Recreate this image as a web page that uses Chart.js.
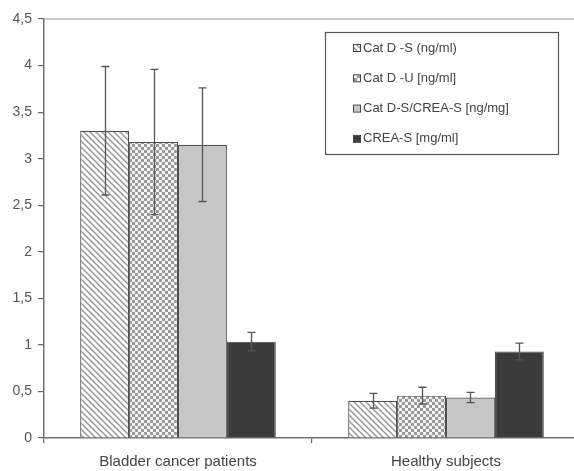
<!DOCTYPE html>
<html>
<head>
<meta charset="utf-8">
<script src="https://cdn.jsdelivr.net/npm/chart.js@4.4.1/dist/chart.umd.min.js"></script>
<style>
  html, body { margin: 0; padding: 0; background: #fff; overflow: hidden; }
  #wrap { width: 580px; height: 471px; }
</style>
</head>
<body>
<div id="wrap"><canvas id="c" width="580" height="471"></canvas></div>
<script>
const categories = ["Bladder cancer patients", "Healthy subjects"];
const seriesLabels = ["Cat D -S (ng/ml)", "Cat D -U [ng/ml]", "Cat D-S/CREA-S [ng/mg]", "CREA-S [mg/ml]"];
const catDS = [3.30, 0.40];
const catDU = [3.18, 0.455];
const catDSCrea = [3.15, 0.435];
const creaS = [1.035, 0.93];
const errCatDS = [0.69, 0.08];
const errCatDU = [0.78, 0.09];
const errCatDSCrea = [0.61, 0.055];
const errCreaS = [0.10, 0.09];
const yTicks = [0, 0.5, 1, 1.5, 2, 2.5, 3, 3.5, 4, 4.5];

function hatchPattern() {
  const c = document.createElement('canvas');
  c.width = 6; c.height = 6;
  const x = c.getContext('2d');
  x.fillStyle = '#fff'; x.fillRect(0, 0, 6, 6);
  x.strokeStyle = '#969696'; x.lineWidth = 1.4;
  x.beginPath();
  x.moveTo(-1, -1); x.lineTo(7, 7);
  x.moveTo(-1, 5); x.lineTo(1, 7);
  x.moveTo(5, -1); x.lineTo(7, 1);
  x.stroke();
  return x.createPattern(c, 'repeat');
}
function checkerPattern() {
  const c = document.createElement('canvas');
  c.width = 6; c.height = 6;
  const x = c.getContext('2d');
  x.fillStyle = '#f4f4f4'; x.fillRect(0, 0, 6, 6);
  x.fillStyle = '#9a9a9a';
  x.fillRect(0, 0, 3, 3); x.fillRect(3, 3, 3, 3);
  return x.createPattern(c, 'repeat');
}

const fills = [hatchPattern(), checkerPattern(), '#c6c6c6', '#3b3b3b'];
const values = [catDS, catDU, catDSCrea, creaS];
const errors = [errCatDS, errCatDU, errCatDSCrea, errCreaS];

const datasets = values.map((v, i) => ({
  label: seriesLabels[i],
  data: v,
  errors: errors[i],
  backgroundColor: fills[i],
  borderColor: '#505050',
  borderWidth: 1.2,
  categoryPercentage: 0.73,
  barPercentage: 1.0
}));

const errorBars = {
  id: 'errorBars',
  afterDatasetsDraw(chart) {
    const ctx = chart.ctx, ys = chart.scales.y;
    ctx.save();
    ctx.strokeStyle = '#555';
    ctx.lineWidth = 1.3;
    chart.data.datasets.forEach((ds, i) => {
      const meta = chart.getDatasetMeta(i);
      meta.data.forEach((el, j) => {
        const v = ds.data[j], e = ds.errors[j];
        const x = Math.round(el.x) + 0.5;
        const yt = ys.getPixelForValue(v + e), yb = ys.getPixelForValue(v - e);
        ctx.beginPath();
        ctx.moveTo(x, yt); ctx.lineTo(x, yb);
        ctx.moveTo(x - 4, yt); ctx.lineTo(x + 4, yt);
        ctx.moveTo(x - 4, yb); ctx.lineTo(x + 4, yb);
        ctx.stroke();
      });
    });
    ctx.restore();
  }
};

const frameAndLegend = {
  id: 'frameAndLegend',
  afterDraw(chart) {
    const ctx = chart.ctx, a = chart.chartArea;
    ctx.save();
    ctx.strokeStyle = '#b4b4b4';
    ctx.lineWidth = 1.5;
    ctx.beginPath();
    ctx.moveTo(a.left, a.top); ctx.lineTo(a.right, a.top);
    ctx.stroke();
    const bx = 325.5, by = 32.5, bw = 233, bh = 122;
    ctx.fillStyle = '#fff';
    ctx.fillRect(bx, by, bw, bh);
    ctx.strokeStyle = '#555';
    ctx.lineWidth = 1.2;
    ctx.strokeRect(bx, by, bw, bh);
    ctx.font = '13px "Liberation Sans", Arial, sans-serif';
    ctx.textBaseline = 'middle';
    ctx.textAlign = 'left';
    chart.data.datasets.forEach((ds, i) => {
      const cy = 48 + i * 30.3;
      ctx.fillStyle = ds.backgroundColor;
      ctx.fillRect(354, cy - 3, 6, 6);
      ctx.strokeStyle = '#444';
      ctx.lineWidth = 1;
      ctx.strokeRect(353.5, cy - 3.5, 7, 7);
      ctx.fillStyle = '#444';
      ctx.fillText(ds.label, 363, cy);
    });
    ctx.restore();
  }
};

new Chart(document.getElementById('c'), {
  type: 'bar',
  data: { labels: categories, datasets },
  options: {
    responsive: false,
    animation: false,
    devicePixelRatio: 1,
    layout: { padding: { top: 19, right: 0, left: 0, bottom: 0 } },
    plugins: { legend: { display: false }, tooltip: { enabled: false } },
    scales: {
      x: {
        offset: true,
        grid: { offset: true, drawOnChartArea: false, drawTicks: true, tickLength: 5, color: '#666', lineWidth: 1.2 },
        border: { color: '#707070', width: 1.5 },
        ticks: { color: '#444', font: { family: '"Liberation Sans", Arial, sans-serif', size: 15 }, padding: 10, maxRotation: 0 },
        afterFit(s) { s.height = 33; }
      },
      y: {
        min: 0, max: 4.5,
        afterBuildTicks(s) { s.ticks = yTicks.map(v => ({ value: v })); },
        grid: { drawOnChartArea: false, drawTicks: true, tickLength: 6, color: '#666', lineWidth: 1.2 },
        border: { color: '#707070', width: 1.5 },
        ticks: {
          color: '#555',
          font: { family: '"Liberation Sans", Arial, sans-serif', size: 14 },
          padding: 6,
          callback: v => String(v).replace('.', ',')
        },
        afterFit(s) { s.width = 44; }
      }
    }
  },
  plugins: [errorBars, frameAndLegend]
});
</script>
</body>
</html>
